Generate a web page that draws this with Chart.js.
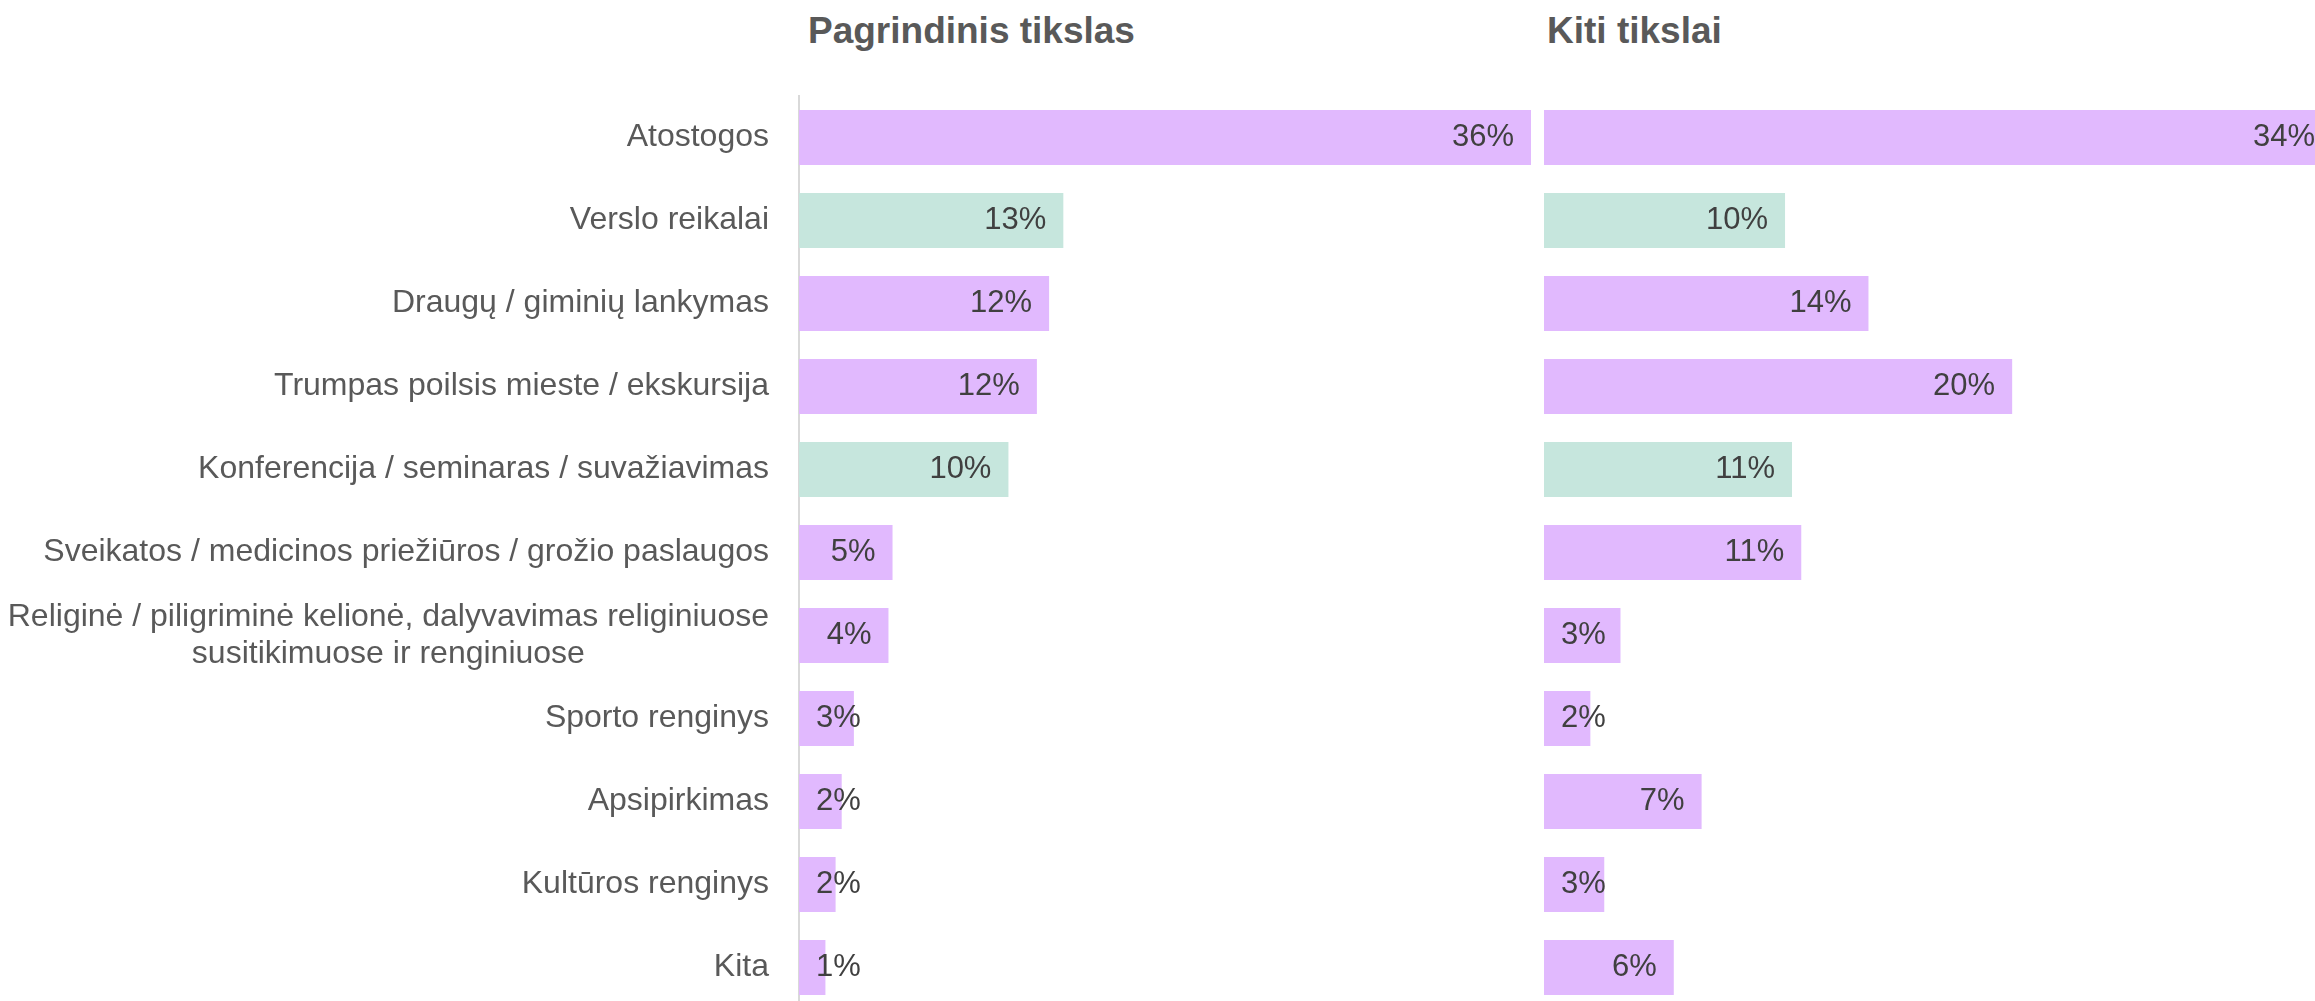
<!DOCTYPE html>
<html lang="lt">
<head>
<meta charset="utf-8">
<title>Kelionės tikslai</title>
<script src="https://cdn.jsdelivr.net/npm/chart.js@4"></script>
<style>
    html, body { margin: 0; padding: 0; background: #fff; }
    body { width: 2315px; height: 1001px; overflow: hidden; position: relative; }
    .panel { position: absolute; top: 0; }
    #main-panel { left: 0; width: 1531px; height: 1009px; }
    #other-panel { left: 1544px; width: 788px; height: 1009px; }
    .panel-title {
        position: absolute; top: 12px;
        font: bold 37px/37px "Liberation Sans", Arial, sans-serif;
        color: #595959; white-space: nowrap;
    }
</style>
</head>
<body>
<div class="panel-title" style="left:808px">Pagrindinis tikslas</div>
<div class="panel-title" style="left:1547px">Kiti tikslai</div>
<div class="panel" id="main-panel"><canvas id="main-chart"></canvas></div>
<div class="panel" id="other-panel"><canvas id="other-chart"></canvas></div>

<script>
// ─── DATA ─────────────────────────────────────────────────
const categories = [
    'Atostogos',
    'Verslo reikalai',
    'Draugų / giminių lankymas',
    'Trumpas poilsis mieste / ekskursija',
    'Konferencija / seminaras / suvažiavimas',
    'Sveikatos / medicinos priežiūros / grožio paslaugos',
    ['Religinė / piligriminė kelionė, dalyvavimas religiniuose', 'susitikimuose ir renginiuose'],
    'Sporto renginys',
    'Apsipirkimas',
    'Kultūros renginys',
    'Kita'
];
const mainPurpose  = [36, 13, 12.3, 11.7, 10.3, 4.6, 4.4, 2.7, 2.1, 1.8, 1.3];
const otherPurpose = [34, 10.4, 14, 20.2, 10.7, 11.1, 3.3, 2.0, 6.8, 2.6, 5.6];

// ─── STYLE ────────────────────────────────────────────────
const PURPLE = '#E1B9FE';
const GREEN = '#C6E6DD';
const barColors = [PURPLE, GREEN, PURPLE, PURPLE, GREEN, PURPLE, PURPLE, PURPLE, PURPLE, PURPLE, PURPLE];
const FONT = '"Liberation Sans", Arial, sans-serif';

// value labels: inside the bar end, pushed right of the base when the bar is short
const valueLabels = {
    id: 'valueLabels',
    afterDatasetsDraw(chart) {
        const ctx = chart.ctx;
        const values = chart.data.datasets[0].data;
        ctx.save();
        ctx.font = `31px ${FONT}`;
        ctx.fillStyle = '#404040';
        ctx.textBaseline = 'middle';
        ctx.textAlign = 'left';
        chart.getDatasetMeta(0).data.forEach((bar, i) => {
            const text = Math.round(values[i]) + '%';
            const w = ctx.measureText(text).width;
            let x = bar.x - 17 - w;
            if (x < bar.base + 17) x = bar.base + 17;
            ctx.fillText(text, x, bar.y);
        });
        ctx.restore();
    }
};

// category labels: right aligned to the axis, extra lines centred under the first
const categoryLabels = {
    id: 'categoryLabels',
    afterDraw(chart) {
        const ctx = chart.ctx;
        const yScale = chart.scales.y;
        const right = chart.chartArea.left - 30;
        ctx.save();
        ctx.font = `32px ${FONT}`;
        ctx.fillStyle = '#595959';
        ctx.textBaseline = 'middle';
        ctx.textAlign = 'center';
        categories.forEach((label, i) => {
            const lines = Array.isArray(label) ? label : [label];
            const w = Math.max(...lines.map(l => ctx.measureText(l).width));
            const cx = right - w / 2;
            const yc = yScale.getPixelForTick(i);
            lines.forEach((line, k) => {
                ctx.fillText(line, cx, yc + (k - (lines.length - 1) / 2) * 37);
            });
        });
        ctx.restore();
    }
};

function makeChart(el, values, xMax, showAxis) {
    const yAxis = {
        display: showAxis,
        grid: { display: false },
        border: { display: true, color: '#D9D9D9', width: 2 },
        ticks: { display: false }
    };
    if (showAxis) yAxis.afterFit = s => { s.width = 799; };

    return new Chart(document.getElementById(el), {
        type: 'bar',
        data: {
            labels: categories,
            datasets: [{
                data: values,
                backgroundColor: barColors,
                borderWidth: 0,
                categoryPercentage: 1,
                barPercentage: 0.663
            }]
        },
        options: {
            indexAxis: 'y',
            responsive: true,
            maintainAspectRatio: false,
            animation: false,
            devicePixelRatio: 1,
            layout: { padding: { top: 96, left: 0, right: 0, bottom: 0 } },
            plugins: {
                legend: { display: false },
                tooltip: { enabled: false }
            },
            scales: {
                x: { display: false, min: 0, max: xMax },
                y: yAxis
            }
        },
        plugins: showAxis ? [valueLabels, categoryLabels] : [valueLabels]
    });
}

makeChart('main-chart', mainPurpose, 36, true);
makeChart('other-chart', otherPurpose, 34, false);
</script>
</body>
</html>
